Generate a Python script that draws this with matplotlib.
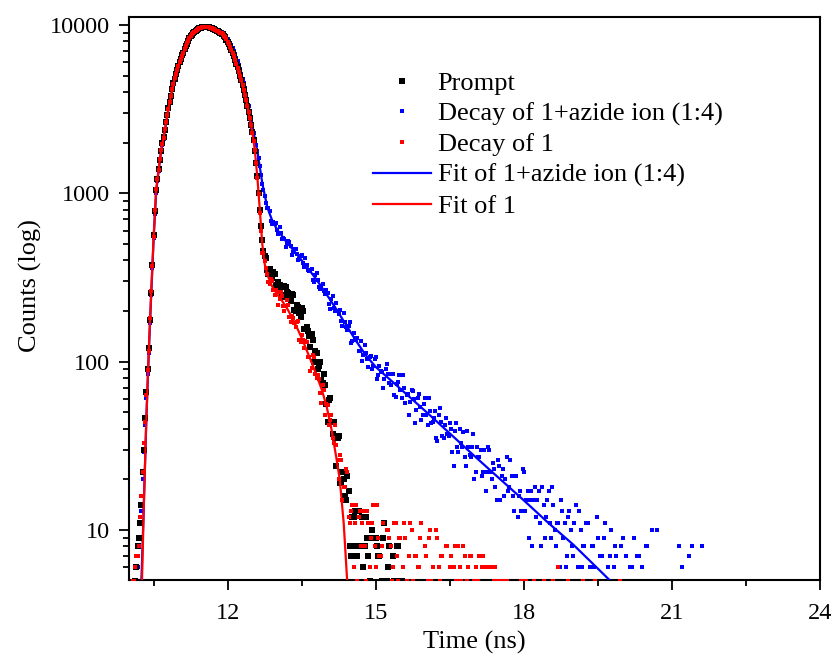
import numpy as np
import matplotlib
matplotlib.use("Agg")
import matplotlib.pyplot as plt
from matplotlib.ticker import FixedLocator, LogLocator, NullFormatter, MultipleLocator, FuncFormatter

plt.rcParams["font.family"] = ["Liberation Serif", "DejaVu Serif"]
plt.rcParams["font.size"] = 17.5

# TCSPC channels: 0.025 ns wide, first channel at 10.000 ns
t0, dt = 10.0, 0.025

# counts per channel
prompt_counts = [
    3, 2, 4, 3, 4, 5, 6, 8, 9, 11, 14, 22, 30, 46, 66, 90, 121, 178, 255, 376,
    565, 786, 1040, 1215, 1395, 1580, 1790, 1985, 2160, 2390,
    2640, 2930, 3210, 3490, 3790, 4160, 4510, 4790, 5090, 5410,
    5710, 5990, 6290, 6590, 6860, 7160, 7480, 7760, 8060, 8340,
    8590, 8770, 8960, 9110, 9240, 9370, 9510, 9590, 9640, 9690,
    9750, 9770, 9760, 9740, 9730, 9680, 9610, 9550, 9510, 9430,
    9340, 9250, 9190, 9100, 8990, 8890, 8810, 8640, 8440, 8190,
    7960, 7690, 7390, 7090, 6810, 6510, 6190, 5890, 5610, 5300,
    4970, 4680, 4410, 4130, 3840, 3560, 3310, 3060, 2790, 2540,
    2310, 2060, 1790, 1510, 1260, 1010, 795, 636, 525, 456,
    426, 411, 349, 330, 355, 334, 316, 340, 331, 286,
    283, 299, 287, 278, 248, 242, 280, 276, 261, 255,
    237, 230, 251, 248, 203, 199, 217, 211, 194, 184,
    207, 199, 156, 157, 161, 153, 142, 123, 146, 135,
    99, 116, 113, 91, 94, 100, 78, 75, 85, 73,
    56, 44, 59, 61, 44, 37, 44, 35, 24, 35,
    36, 19, 19, 22, 20, 16, 15, 21, 17, 8,
    7, 12, 12, 13, 8, 7, 13, 4, 8, 12,
    6, 8, 12, 9, 7, 5, 9, 10, 3, 4,
    9, 8, 7, 7, 4, 5, 9, 11, 5, 5,
    6, 8, 3, 2, 7, 5, 5, 8, 8, 3,
    3, 5, 4, 4, 1,
]

decay1_counts = [
    4, 3, 3, 5, 5, 6, 7, 7, 8, 12, 16, 22, 33, 44, 63, 89, 116, 181, 264, 371,
    552, 792, 1060, 1210, 1380, 1600, 1810, 1960, 2140, 2410,
    2660, 2910, 3190, 3510, 3810, 4140, 4490, 4810, 5110, 5390,
    5690, 6010, 6310, 6570, 6840, 7180, 7510, 7780, 8040, 8320,
    8610, 8790, 8940, 9120, 9260, 9390, 9490, 9600, 9660, 9710,
    9730, 9760, 9780, 9750, 9710, 9670, 9630, 9560, 9490, 9440,
    9360, 9260, 9170, 9090, 9010, 8900, 8790, 8620, 8460, 8210,
    7940, 7700, 7410, 7100, 6790, 6520, 6210, 5900, 5590, 5280,
    4990, 4700, 4390, 4110, 3860, 3570, 3290, 3040, 2810, 2560,
    2290, 2040, 1810, 1520, 1240, 985, 760, 594, 441, 441,
    394, 360, 330, 298, 290, 310, 303, 267, 249, 268,
    260, 216, 235, 258, 244, 215, 199, 214, 232, 218,
    185, 173, 188, 182, 169, 161, 173, 175, 134, 131,
    145, 134, 121, 132, 131, 106, 106, 88, 92, 109,
    106, 85, 80, 83, 79, 65, 57, 73, 68, 48,
    56, 55, 42, 45, 48, 35, 33, 42, 32, 26,
    20, 28, 26, 15, 18, 18, 23, 22, 12, 11,
    13, 14, 6, 11, 14, 5, 12, 13, 8, 11,
    13, 8, 5, 13, 11, 6, 9, 11, 14, 8,
    6, 14, 9, 7, 7, 8, 11, 4, 3, 10,
    10, 9, 8, 5, 6, 11, 11, 7, 5, 9,
    9, 2, 6, 11, 9, 5, 3, 7, 11, 10,
    5, 4, 7, 7, 6, 6, 9, 11, 3, 4,
    8, 7, 5, 9, 10, 5, 6, 3, 4, 10,
    9, 6, 5, 7, 7, 4, 2, 8, 8, 3,
    6, 7, 4, 6, 8, 5, 5, 8, 6, 5,
    3, 8, 7, 3, 5, 6, 7, 7, 4, 4,
    5, 6, 2, 5, 7, 2, 6, 7, 4, 6,
    6, 4, 2, 6, 6, 3, 5, 6, 5, 4,
    5,
]
# sparse late counts of 1 that still reach the axis
decay1_late_t = [17.55, 17.60, 17.65, 17.95, 18.00, 18.05, 18.20, 18.40, 18.60, 18.70,
                 18.90, 19.20, 19.45, 19.95]
decay1_late_counts = [5, 5, 5, 5, 5, 5, 5, 5, 5, 6, 5, 5, 5, 5]

azide_counts = [
    5, 5, 5, 4, 4, 5, 5, 6, 8, 9, 13, 20, 29, 42, 61, 84, 112, 169, 248, 362,
    540, 755, 1010, 1180, 1350, 1550, 1760, 1930, 2110, 2360,
    2610, 2880, 3160, 3450, 3760, 4110, 4460, 4750, 5060, 5370,
    5670, 5960, 6260, 6550, 6830, 7140, 7440, 7730, 8010, 8300,
    8560, 8750, 8930, 9090, 9230, 9370, 9490, 9580, 9650, 9710,
    9760, 9790, 9800, 9790, 9780, 9740, 9700, 9650, 9590, 9530,
    9460, 9390, 9320, 9240, 9160, 9080, 8990, 8840, 8680, 8490,
    8290, 8060, 7810, 7560, 7290, 7000, 6710, 6400, 6090, 5780,
    5460, 5120, 4790, 4500, 4210, 3900, 3590, 3300, 3010, 2740,
    2490, 2290, 2110, 1950, 1790, 1620, 1460, 1290, 1140, 1040,
    960, 878, 816, 815, 783, 685, 656, 672, 660, 667,
    608, 575, 628, 579, 534, 540, 535, 481, 501, 522,
    514, 487, 431, 448, 467, 470, 435, 403, 406, 423,
    428, 387, 363, 412, 377, 350, 346, 347, 355, 305,
    297, 328, 337, 307, 278, 270, 283, 291, 262, 253,
    268, 255, 221, 205, 237, 244, 209, 200, 224, 199,
    193, 204, 174, 163, 195, 173, 161, 155, 162, 173,
    130, 132, 149, 138, 135, 139, 116, 116, 132, 101,
    110, 126, 112, 104, 93, 107, 108, 90, 94, 104,
    107, 79, 83, 94, 88, 87, 70, 79, 90, 97,
    84, 75, 73, 84, 85, 63, 62, 74, 76, 83,
    68, 61, 83, 70, 57, 63, 64, 48, 58, 68,
    67, 60, 43, 52, 61, 64, 54, 45, 48, 56,
    61, 48, 42, 61, 51, 43, 44, 46, 51, 35,
    34, 48, 53, 44, 36, 35, 42, 46, 37, 36,
    43, 40, 29, 24, 39, 43, 31, 29, 40, 33,
    31, 38, 27, 24, 39, 31, 28, 27, 31, 37,
    20, 22, 31, 27, 27, 30, 21, 22, 30, 17,
    22, 31, 30, 22, 20, 25, 23, 18, 15, 26,
    24, 15, 21, 23, 16, 20, 27, 17, 18, 26,
    21, 16, 13, 21, 21, 12, 16, 17, 13, 23,
    22, 13, 15, 17, 9, 15, 17, 8, 15, 18,
    12, 15, 17, 11, 8, 18, 14, 9, 12, 15,
    17, 11, 9, 18, 14, 10, 8, 11, 11, 6,
    15, 13, 9, 11, 6, 7, 12, 13, 10, 8,
    7, 11, 14, 3, 6, 13, 10, 6, 8, 8,
    11, 11, 11, 4, 6, 8, 8, 6, 3, 12,
    9, 4, 7, 7, 4, 9, 11, 5, 6, 3,
    7, 10, 3, 6, 8, 7, 5, 4, 4, 8,
    9, 2, 5, 7, 2, 5, 6, 4, 6, 9,
    4, 4, 7, 7, 2, 2, 6, 5, 4, 8,
    8,
]
# sparse late counts of 1+azide ion that still reach the axis
azide_late_t = [20.60, 20.70, 20.80, 21.00, 21.15, 21.20, 21.35, 21.40, 21.60, 21.90,
                22.10, 22.30, 23.35]
azide_late_counts = [10, 10, 5, 5, 8, 6, 7, 8, 8, 5, 5, 5, 5]

# fitted curves (knots)
fit1_t = [10.24, 10.27, 10.30, 10.35, 10.40, 10.45, 10.50, 10.55, 10.60, 10.65,
          10.70, 10.80, 10.90, 11.00, 11.10, 11.20, 11.30, 11.40, 11.50, 11.55,
          11.60, 11.70, 11.80, 11.90, 12.00, 12.10, 12.20, 12.30, 12.40, 12.50,
          12.55, 12.60, 12.65, 12.70, 12.75, 12.80, 12.90, 13.00, 13.10, 13.20,
          13.30, 13.40, 13.50, 13.60, 13.70, 13.80, 13.90, 14.00, 14.10, 14.20,
          14.27, 14.35, 14.42, 14.46]
fit1_y = [3, 6, 14, 45, 115, 260, 560, 1050, 1390, 1800,
          2150, 3200, 4500, 5700, 6850, 8000, 8900, 9450, 9720, 9760,
          9720, 9500, 9180, 8800, 7950, 6800, 5600, 4400, 3300, 2300,
          1800, 1250, 800, 500, 380, 330, 280, 252, 230, 208,
          184, 160, 138, 117, 99, 83, 69, 55, 40, 27,
          20, 11, 5, 3]

fit_azide_t = [10.22, 10.26, 10.30, 10.35, 10.40, 10.45, 10.50, 10.55, 10.60, 10.65,
               10.70, 10.80, 10.90, 11.00, 11.10, 11.20, 11.30, 11.40, 11.50, 11.55,
               11.60, 11.70, 11.80, 11.90, 12.00, 12.10, 12.20, 12.30, 12.40, 12.50,
               12.60, 12.70, 12.80, 12.90, 13.00, 13.20, 13.40, 13.60, 13.80, 14.00,
               14.20, 14.40, 14.60, 14.80, 15.00, 15.50, 16.00, 16.50, 17.00, 17.50,
               18.00, 18.50, 19.00, 19.50, 19.75, 20.00]
fit_azide_y = [3, 6, 14, 44, 112, 250, 545, 1020, 1360, 1770,
               2120, 3170, 4470, 5670, 6840, 8020, 8930, 9480, 9750, 9790,
               9770, 9580, 9320, 8990, 8290, 7290, 6090, 4790, 3590, 2490,
               1790, 1150, 830, 690, 610, 510, 435, 367, 307, 252,
               205, 165, 133, 109, 93, 69, 51, 37.5, 27.5, 20.3,
               15.0, 11.0, 8.2, 5.9, 5.0, 4.3]


def channel_times(counts):
    return t0 + dt * np.arange(len(counts))


fig = plt.figure(figsize=(8.35, 6.57), dpi=100)
ax = fig.add_axes([0.1545, 0.1172, 0.8275, 0.8565])

blue, red = "#0000ff", "#ff0000"
ax.plot(np.concatenate([channel_times(azide_counts), azide_late_t]),
        azide_counts + azide_late_counts, "s", color=blue, ms=3.4, mew=0,
        label="Decay of 1+azide ion (1:4)", zorder=2)
ax.plot(fit_azide_t, fit_azide_y, "-", color=blue, lw=1.6,
        label="Fit of 1+azide ion (1:4)", zorder=3)
ax.plot(channel_times(prompt_counts), prompt_counts, "s", color="black", ms=5.0, mew=0,
        label="Prompt", zorder=4)
ax.plot(np.concatenate([channel_times(decay1_counts), decay1_late_t]),
        decay1_counts + decay1_late_counts, "s", color=red, ms=3.4, mew=0,
        label="Decay of 1", zorder=5)
ax.plot(fit1_t, fit1_y, "-", color=red, lw=1.6, label="Fit of 1", zorder=6)

ax.set_yscale("log")
ax.set_xlim(10, 24)
ax.set_ylim(5.05, 11110)

ax.xaxis.set_major_locator(FixedLocator([12, 15, 18, 21, 24]))
ax.xaxis.set_minor_locator(MultipleLocator(1.5))
ax.yaxis.set_major_locator(FixedLocator([10, 100, 1000, 10000]))
ax.yaxis.set_major_formatter(FuncFormatter(lambda v, p: f"{int(v)}"))
ax.yaxis.set_minor_locator(LogLocator(base=10, subs=np.arange(2, 10)))
ax.yaxis.set_minor_formatter(NullFormatter())

for s in ax.spines.values():
    s.set_linewidth(1.5)
ax.tick_params(which="both", direction="out", top=False, right=False, width=1.3)
ax.tick_params(which="major", length=7.5)
ax.tick_params(which="minor", length=4)
ax.tick_params(axis="x", which="major", pad=9)
ax.tick_params(axis="y", which="major", pad=6)

ax.set_xlabel("Time (ns)", fontsize=19)
ax.xaxis.set_label_coords(0.5, -0.090)
ax.set_ylabel("Counts (log)", fontsize=19)
ax.yaxis.set_label_coords(-0.126, 0.524)

handles, labels = ax.get_legend_handles_labels()
order = [labels.index(n) for n in ["Prompt", "Decay of 1+azide ion (1:4)", "Decay of 1",
                                   "Fit of 1+azide ion (1:4)", "Fit of 1"]]
ax.legend([handles[i] for i in order], [labels[i] for i in order],
          loc="upper left", bbox_to_anchor=(0.353, 0.904), frameon=False, fontsize=19,
          borderpad=0, borderaxespad=0, handlelength=2.2, handletextpad=0.25,
          labelspacing=0.27, numpoints=1, markerscale=0.8)

fig.savefig("out.png", dpi=100)
